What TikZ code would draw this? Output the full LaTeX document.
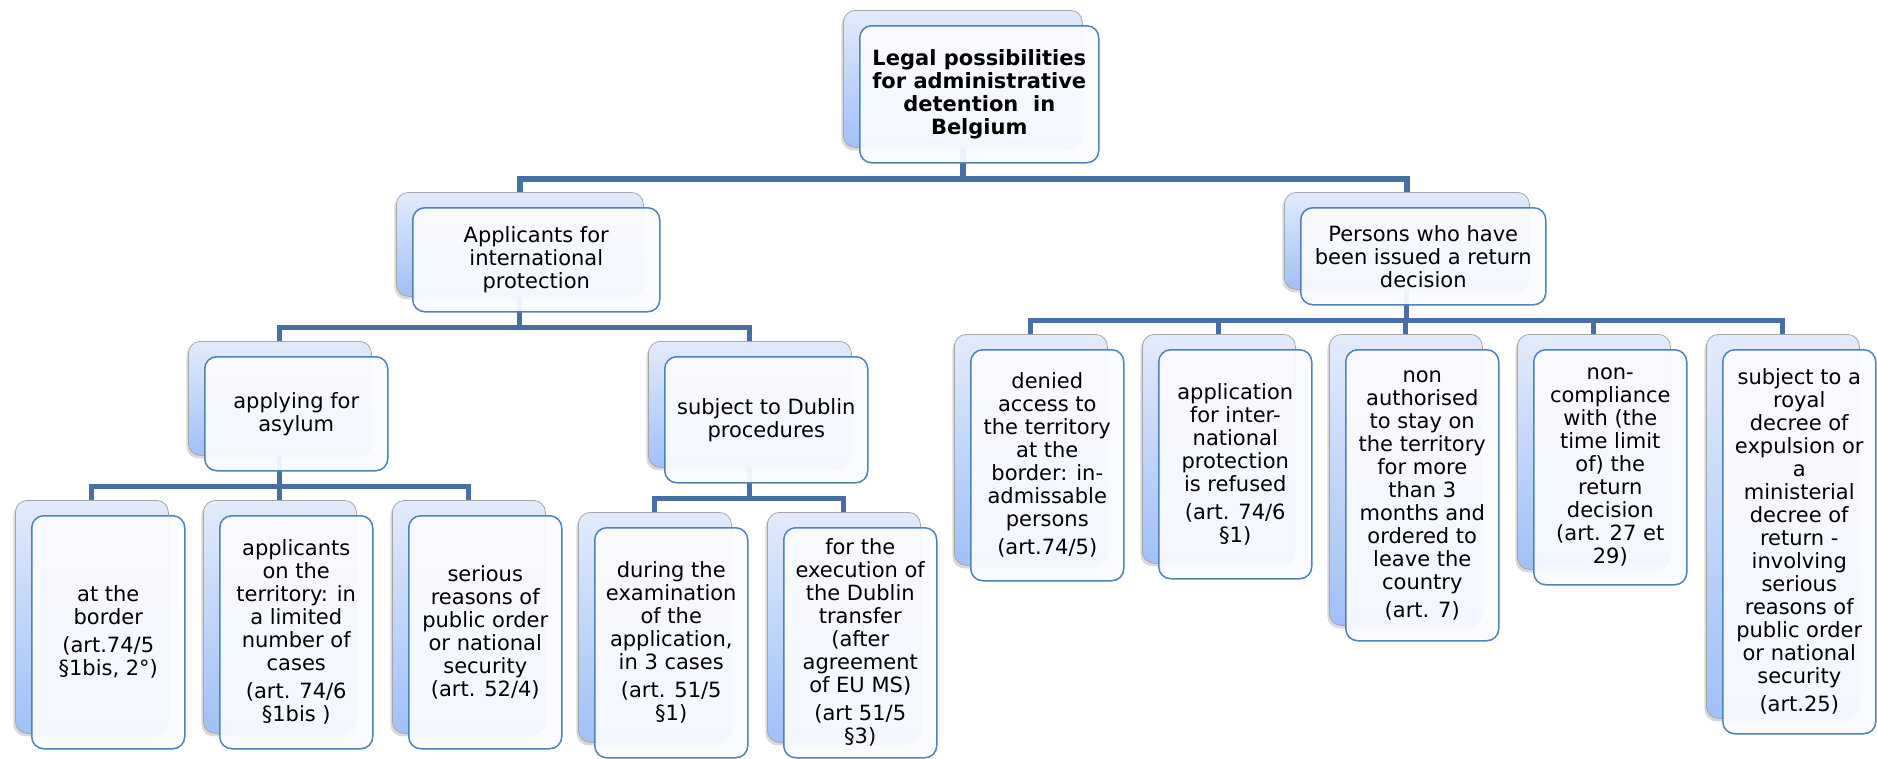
\documentclass[tikz,border=0pt]{standalone}
\usepackage{fontspec}
\setmainfont{DejaVu Sans}
\usetikzlibrary{shadows}
\pgfdeclarelayer{background}
\pgfsetlayers{background,main}
\definecolor{linkblue}{HTML}{466FA6}
\definecolor{cardline}{HTML}{4F81BD}
\definecolor{cardfill}{HTML}{FAFBFF}
\definecolor{backtop}{HTML}{E2EBFB}
\definecolor{backbot}{HTML}{A0C0F7}
\begin{document}
\begin{tikzpicture}[x=1pt,y=-1pt,line cap=butt,line join=miter]
		\tikzset{back/.style={anchor=north west,rounded corners=12pt,draw=gray!70,line width=.8pt,top color=backtop,bottom color=backbot,drop shadow={shadow xshift=-2pt,shadow yshift=-3pt,opacity=.3}},
			front/.style={anchor=north west,rounded corners=12pt,draw=cardline,line width=1.5pt,fill=cardfill,fill opacity=.93,text opacity=1,align=center,inner sep=1pt,font=\fontsize{21}{23}\selectfont},
			small/.style={minimum width=153pt},
			link/.style={draw=linkblue,line width=5pt}}
		\useasboundingbox (0,0) rectangle (1877,758);
		% top
		\node[back,minimum width=239pt,minimum height=137pt] (rootB) at (843,10) {};
		\node[front,minimum width=239pt,minimum height=137pt] (root) at (859,25) {\bfseries Legal possibilities\\\bfseries for administrative\\\bfseries detention~ in\\\bfseries Belgium};
		% first level
		\node[back,minimum width=247pt,minimum height=104pt] (appB) at (396,192) {};
		\node[front,minimum width=247pt,minimum height=104pt] (app) at (412,207) {Applicants for\\international\\protection};
		\node[back,minimum width=245pt,minimum height=97pt] (perB) at (1284,192) {};
		\node[front,minimum width=245pt,minimum height=97pt] (per) at (1300,207) {Persons who have\\been issued a return\\decision};
		% second level, left
		\node[back,minimum width=183pt,minimum height=114pt] (applyB) at (188,341) {};
		\node[front,minimum width=183pt,minimum height=114pt] (apply) at (204,356) {applying for\\asylum};
		\node[back,minimum width=203pt,minimum height=126pt] (dubB) at (648,341) {};
		\node[front,minimum width=203pt,minimum height=126pt] (dub) at (664,356) {subject to Dublin\\procedures};
		% asylum cases
		\node[back,small,minimum height=233pt] (borderB) at (15,500) {};
		\node[front,small,minimum height=233pt] (border) at (31,515) {at the\\border\\[5pt](art.74/5\\§1bis, 2°)};
		\node[back,small,minimum height=233pt] (terrB) at (203,500) {};
		\node[front,small,minimum height=233pt] (terr) at (219,515) {applicants\\on the\\territory: in\\a limited\\number of\\cases\\[5pt](art. 74/6\\§1bis )};
		\node[back,small,minimum height=233pt] (seriousB) at (392,500) {};
		\node[front,small,minimum height=233pt] (serious) at (408,515) {serious\\reasons of\\public order\\or national\\security\\(art. 52/4)};
		% dublin cases
		\node[back,small,minimum height=230pt] (duringB) at (578,512) {};
		\node[front,small,minimum height=230pt] (during) at (594,527) {during the\\examination\\of the\\application,\\in 3 cases\\[5pt](art. 51/5\\§1)};
		\node[back,small,minimum height=230pt] (execB) at (767,512) {};
		\node[front,small,minimum height=230pt] (exec) at (783,527) {for the\\execution of\\the Dublin\\transfer\\(after\\agreement\\of EU MS)\\[5pt](art 51/5\\§3)};
		% return decision cases
		\node[back,small,minimum height=231pt] (deniedB) at (954,334) {};
		\node[front,small,minimum height=231pt] (denied) at (970,349) {denied\\access to\\the territory\\at the\\border: in-\\admissable\\persons\\[5pt](art.74/5)};
		\node[back,small,minimum height=229pt] (refusedB) at (1142,334) {};
		\node[front,small,minimum height=229pt] (refused) at (1158,349) {application\\for inter-\\national\\protection\\is refused\\[5pt](art. 74/6\\§1)};
		\node[back,small,minimum height=291pt] (nonauthB) at (1329,334) {};
		\node[front,small,minimum height=291pt] (nonauth) at (1345,349) {non\\authorised\\to stay on\\the territory\\for more\\than 3\\months and\\ordered to\\leave the\\country\\[5pt](art. 7)};
		\node[back,small,minimum height=235pt] (noncompB) at (1517,334) {};
		\node[front,small,minimum height=235pt] (noncomp) at (1533,349) {non-\\compliance\\with (the\\time limit\\of) the\\return\\decision\\(art. 27 et\\29)};
		\node[back,small,minimum height=384pt] (royalB) at (1706,334) {};
		\node[front,small,minimum height=384pt] (royal) at (1722,349) {subject to a\\royal\\decree of\\expulsion or\\a\\ministerial\\decree of\\return -\\involving\\serious\\reasons of\\public order\\or national\\security\\[5pt](art.25)};
		% connectors
		\begin{pgfonlayer}{background}
		\foreach \kid in {appB,perB} \draw[link,line width=6pt] (rootB.south) -- ++(0,31) -| (\kid.north);
		\foreach \kid in {applyB,dubB} \draw[link] (appB.south) -- ++(0,31) -| (\kid.north);
		\foreach \kid in {borderB,terrB,seriousB} \draw[link] (applyB.south) -- ++(0,31) -| (\kid.north);
		\foreach \kid in {duringB,execB} \draw[link] (dubB.south) -- ++(0,31) -| (\kid.north);
		\foreach \kid in {deniedB,refusedB,nonauthB,noncompB,royalB} \draw[link] (perB.south) -- ++(0,31) -| (\kid.north);
		\end{pgfonlayer}
\end{tikzpicture}
\end{document}
